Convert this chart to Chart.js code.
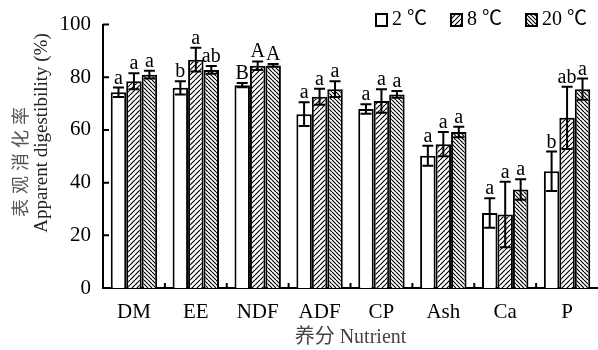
<!DOCTYPE html>
<html>
<head>
<meta charset="utf-8">
<script src="https://cdn.jsdelivr.net/npm/chart.js@4.4.1/dist/chart.umd.min.js"></script>
<style>
    html, body { margin: 0; padding: 0; background: #fff; }
    #wrap { width: 598px; height: 350px; }
</style>
</head>
<body>
<div id="wrap"><canvas id="grafico" width="598" height="350"></canvas></div>
<script>
const categorias = ["DM", "EE", "NDF", "ADF", "CP", "Ash", "Ca", "P"];
const serieNombres = ["2 ℃", "8 ℃", "20 ℃"];

const media2 = [74.3, 76.0, 77.0, 66.0, 68.0, 50.2, 28.5, 44.3];
const error2 = [1.8, 2.5, 0.8, 4.5, 1.8, 3.8, 5.6, 7.5];
const letras2 = ["a", "b", "B", "a", "a", "a", "a", "b"];

const media8 = [78.5, 86.7, 84.4, 72.6, 71.0, 54.6, 27.9, 64.6];
const error8 = [3.0, 4.5, 1.6, 3.0, 4.5, 4.6, 12.4, 11.8];
const letras8 = ["a", "a", "A", "a", "a", "a", "a", "ab"];

const media20 = [81.0, 82.8, 84.5, 75.5, 73.5, 59.2, 37.4, 75.5];
const error20 = [1.5, 1.5, 0.5, 3.0, 1.3, 2.0, 3.9, 4.0];
const letras20 = ["a", "ab", "A", "a", "a", "a", "a", "a"];

const yTicks = [0, 20, 40, 60, 80, 100];

const errores = [error2, error8, error20];
const letras = [letras2, letras8, letras20];

const serif = "'Liberation Serif', 'Times New Roman', 'Noto Sans CJK SC', serif";

// tramas de rayas
function trama(paso, invertida) {
    const c = document.createElement("canvas");
    c.width = paso; c.height = paso;
    const g = c.getContext("2d");
    g.fillStyle = "#fff";
    g.fillRect(0, 0, paso, paso);
    g.strokeStyle = "#000";
    g.lineWidth = 1.2;
    g.beginPath();
    for (let k = -1; k <= 1; k++) {
        if (invertida) {
            g.moveTo(k * paso, 0);
            g.lineTo(k * paso + paso, paso);
        } else {
            g.moveTo(k * paso, paso);
            g.lineTo(k * paso + paso, 0);
        }
    }
    g.stroke();
    return g.createPattern(c, "repeat");
}

const relleno = ["#ffffff", trama(5, false), trama(4, true)];

const pluginExtras = {
    id: "extras",
    afterDatasetsDraw(chart) {
        const ctx = chart.ctx;
        const y = chart.scales.y;
        ctx.save();
        ctx.strokeStyle = "#000";
        ctx.lineWidth = 2;
        chart.data.datasets.forEach((ds, i) => {
            const meta = chart.getDatasetMeta(i);
            meta.data.forEach((bar, j) => {
                const v = ds.data[j], e = errores[i][j];
                const yt = y.getPixelForValue(v + e);
                const yb = y.getPixelForValue(v - e);
                const hw = 5.5;
                ctx.beginPath();
                ctx.moveTo(bar.x, yt); ctx.lineTo(bar.x, yb);
                ctx.moveTo(bar.x - hw, yt); ctx.lineTo(bar.x + hw, yt);
                ctx.moveTo(bar.x - hw, yb); ctx.lineTo(bar.x + hw, yb);
                ctx.stroke();
                ctx.fillStyle = "#000";
                ctx.font = "20px " + serif;
                ctx.textAlign = "center";
                ctx.textBaseline = "alphabetic";
                ctx.fillText(letras[i][j], bar.x, yt - 4);
            });
        });
        ctx.restore();
    },
    afterDraw(chart) {
        const ctx = chart.ctx;
        const x = chart.scales.x, y = chart.scales.y;
        const area = chart.chartArea;
        ctx.save();
        ctx.strokeStyle = "#000";
        ctx.lineWidth = 2;
        // marcas hacia dentro
        ctx.beginPath();
        yTicks.forEach(t => {
            const py = y.getPixelForValue(t);
            ctx.moveTo(area.left, py); ctx.lineTo(area.left + 6, py);
        });
        for (let i = 1; i < categorias.length; i++) {
            const px = (x.getPixelForValue(i - 1) + x.getPixelForValue(i)) / 2;
            ctx.moveTo(px, area.bottom); ctx.lineTo(px, area.bottom - 5);
        }
        ctx.stroke();

        // titulo del eje y
        ctx.save();
        ctx.translate(20, 162);
        ctx.rotate(-Math.PI / 2);
        ctx.fillStyle = "#555";
        ctx.font = "18px 'Noto Sans CJK SC', serif";
        ctx.textAlign = "center";
        ctx.textBaseline = "middle";
        const cn = "表观消化率";
        for (let k = 0; k < cn.length; k++) {
            ctx.fillText(cn[k], (k - 2) * 23, 0);
        }
        ctx.restore();
        ctx.save();
        ctx.translate(42, 133);
        ctx.rotate(-Math.PI / 2);
        ctx.fillStyle = "#222";
        ctx.font = "19px " + serif;
        ctx.textAlign = "center";
        ctx.textBaseline = "middle";
        ctx.fillText("Apparent digestibility (%)", 0, 0);
        ctx.restore();

        // leyenda
        const posLeyenda = [375, 450, 525];
        ctx.font = "20px " + serif;
        ctx.textAlign = "left";
        ctx.textBaseline = "middle";
        chart.data.datasets.forEach((ds, i) => {
            const bx = posLeyenda[i];
            ctx.fillStyle = ds.backgroundColor;
            ctx.fillRect(bx, 13, 13, 14);
            ctx.strokeRect(bx + 1, 14, 11, 12);
            ctx.fillStyle = "#000";
            ctx.fillText(ds.label, bx + 17, 20);
        });
        ctx.restore();
    }
};

new Chart(document.getElementById("grafico"), {
    type: "bar",
    data: {
        labels: categorias,
        datasets: [
            { label: serieNombres[0], data: media2, backgroundColor: relleno[0] },
            { label: serieNombres[1], data: media8, backgroundColor: relleno[1] },
            { label: serieNombres[2], data: media20, backgroundColor: relleno[2] }
        ].map(d => ({ ...d, borderColor: "#000", borderWidth: 2, categoryPercentage: 0.75, barPercentage: 1.0 }))
    },
    options: {
        responsive: false,
        animation: false,
        layout: { padding: { top: 20, right: 0, left: 0, bottom: 0 } },
        plugins: {
            legend: { display: false },
            tooltip: { enabled: false }
        },
        scales: {
            x: {
                grid: { display: false, drawTicks: false },
                border: { display: true, color: "#000", width: 2 },
                ticks: { color: "#000", font: { family: serif, size: 21 }, padding: 12, maxRotation: 0 },
                title: { display: true, text: "养分 Nutrient", color: "#444", font: { family: serif, size: 20 }, padding: { top: 0, bottom: 0 } },
                afterFit(s) { s.height = 62; }
            },
            y: {
                min: 0,
                max: 100,
                grid: { display: false, drawTicks: false },
                border: { display: true, color: "#000", width: 2 },
                ticks: { stepSize: 20, color: "#000", font: { family: serif, size: 21 }, padding: 12 },
                afterFit(s) { s.width = 103; }
            }
        }
    },
    plugins: [pluginExtras]
});
</script>
</body>
</html>
